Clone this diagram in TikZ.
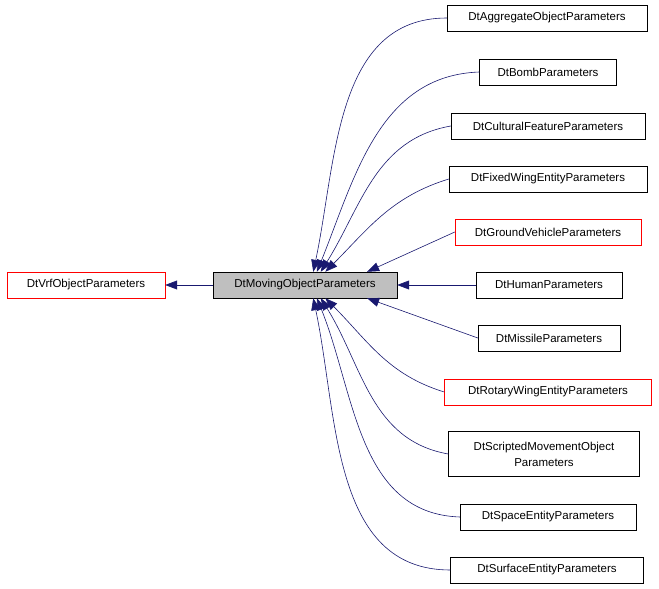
\documentclass[tikz,border=0pt]{standalone}
\usepackage{fontspec}
\setmainfont{Liberation Sans}
\usetikzlibrary{arrows.meta}
\begin{document}
\begin{tikzpicture}[x=1pt,y=-1pt,
 box/.style={draw=black,fill=white,minimum height=26pt,inner sep=3pt,font=\fontsize{11.5}{16}\selectfont,align=center},
 redbox/.style={box,draw=red},
 e/.style={draw={rgb,255:red,25;green,25;blue,112},-{Triangle[length=12pt,width=9pt]},line width=0.6pt}]
\useasboundingbox (0,0) rectangle (659,589);
\node[redbox,minimum width=158pt] (v) at (86,285) {DtVrfObjectParameters};
\node[box,fill={rgb,255:red,191;green,191;blue,191},minimum width=184pt] (m) at (305,285) {DtMovingObjectParameters};
\node[box,minimum width=200pt] (c1) at (547,18) {DtAggregateObjectParameters};
\node[box,minimum width=137pt] (c2) at (548,72) {DtBombParameters};
\node[box,minimum width=194pt] (c3) at (548,126) {DtCulturalFeatureParameters};
\node[box,minimum width=198pt] (c4) at (548,179) {DtFixedWingEntityParameters};
\node[redbox,minimum width=186pt] (c5) at (548,232) {DtGroundVehicleParameters};
\node[box,minimum width=146pt] (c6) at (549,285) {DtHumanParameters};
\node[box,minimum width=142pt] (c7) at (549,338) {DtMissileParameters};
\node[redbox,minimum width=207pt] (c8) at (548,392) {DtRotaryWingEntityParameters};
\node[box,minimum width=191pt,minimum height=45pt] (c9) at (544,454) {DtScriptedMovementObject\\Parameters};
\node[box,minimum width=176pt] (c10) at (548,517) {DtSpaceEntityParameters};
\node[box,minimum width=193pt] (c11) at (547,570) {DtSurfaceEntityParameters};
\draw[e] (m) -- (v);
\draw[e] (c1.west) to[out=180,in=78] (m.58);
\draw[e] (c2.west) to[out=182,in=68] (m.48);
\draw[e] (c3.west) to[out=190,in=58] (m.40);
\draw[e] (c4.west) to[out=197,in=45] (m.33);
\draw[e] (c5.west) -- (m.12);
\draw[e] (c6) -- (m);
\draw[e] (c7.west) -- (m.-12);
\draw[e] (c8.west) to[out=163,in=-45] (m.-33);
\draw[e] (c9.west) to[out=170,in=-58] (m.-40);
\draw[e] (c10.west) to[out=178,in=-68] (m.-48);
\draw[e] (c11.west) to[out=180,in=-78] (m.-58);
\end{tikzpicture}
\end{document}
